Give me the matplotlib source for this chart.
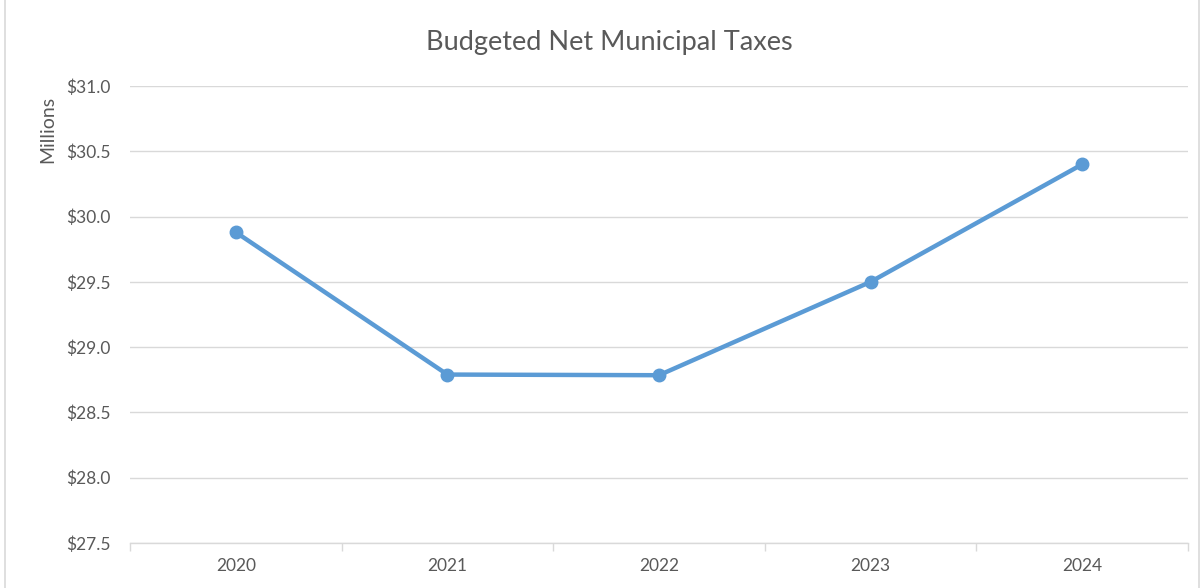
import matplotlib.pyplot as plt
from matplotlib.ticker import FuncFormatter, MultipleLocator
import numpy as np

years = ['2020', '2021', '2022', '2023', '2024']
taxes = [29.88, 28.79, 28.785, 29.50, 30.40]  # millions of dollars

txt = '#595959'
grid = '#D9D9D9'
blue = '#5B9BD5'

plt.rcParams['font.family'] = ['Lato', 'DejaVu Sans']

fig = plt.figure(figsize=(12.04, 5.88), dpi=100)
ax = fig.add_axes([130 / 1204, 1 - 543 / 588, (1188 - 130) / 1204, (543 - 86) / 588])

x = np.arange(len(years))
ax.plot(x, taxes, color=blue, lw=3.2, marker='o', ms=9, zorder=3)

ax.set_xlim(-0.5, len(years) - 0.5)
ax.set_ylim(27.5, 31.0)
ax.yaxis.set_major_locator(MultipleLocator(0.5))
ax.yaxis.set_major_formatter(FuncFormatter(lambda v, p: f'${v:.1f}'))
ax.set_xticks(x)
ax.set_xticklabels(years)
ax.set_xticks(np.arange(-0.5, len(years), 1), minor=True)

ax.grid(axis='y', color=grid, lw=1.0)
ax.set_axisbelow(True)
for s in ['top', 'right', 'left']:
    ax.spines[s].set_visible(False)
ax.spines['bottom'].set_color(grid)
ax.spines['bottom'].set_linewidth(1.0)

ax.tick_params(axis='y', length=0, colors=txt, labelsize=12.5, pad=14)
ax.tick_params(axis='x', which='major', length=0, colors=txt, labelsize=12.5, pad=11)
ax.tick_params(axis='x', which='minor', length=6, color=grid, width=1.0)

ax.set_ylabel('Millions', color=txt, fontsize=14)
ax.yaxis.set_label_coords(-0.07, 0.905)

fig.text(0.506, 0.927, 'Budgeted Net Municipal Taxes', ha='center', va='center',
         color=txt, fontsize=19.5)

# chart border
fig.patches.append(plt.Rectangle((0.004, -0.01), 0.992, 1.02, transform=fig.transFigure,
                                 fill=False, edgecolor=grid, lw=1.2))

fig.savefig('out.png', dpi=100)
